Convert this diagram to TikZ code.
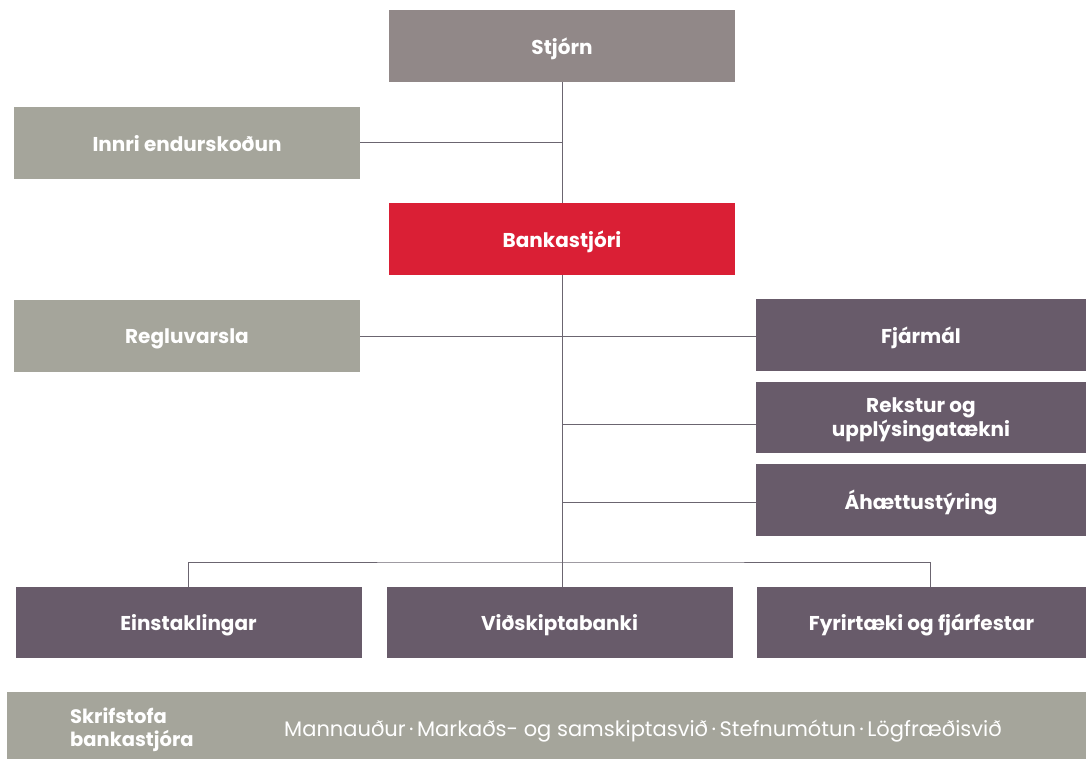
\documentclass[tikz,border=0pt]{standalone}
\usepackage{fontspec}
\setmainfont{Poppins}
\usepackage{tikz}
\usetikzlibrary{positioning}

\definecolor{boardgray}{HTML}{918888}
\definecolor{stonegray}{HTML}{A5A59B}
\definecolor{bankred}{HTML}{DA1F35}
\definecolor{plum}{HTML}{685B6A}
\definecolor{linegray}{HTML}{6B6570}

\tikzset{
  unit/.style={fill=#1, text=white, font=\fontsize{20}{24}\selectfont\bfseries,
    inner sep=0pt, text depth=0pt, align=center, minimum height=72pt},
  wideunit/.style={unit=#1, minimum width=346pt},
  sideunit/.style={unit=#1, minimum width=330pt},
  conn/.style={draw=linegray, line width=1pt}
}

\begin{document}
\begin{tikzpicture}[x=1pt,y=-1pt]
\useasboundingbox (0,0) rectangle (1086,759);

\node[wideunit=boardgray] (stjorn) at (562,46) {Stjórn};
\node[wideunit=stonegray] (innri) at (187,143) {Innri endurskoðun};
\node[wideunit=bankred] (bank) at (562,239) {Bankastjóri};
\node[wideunit=stonegray] (regl) at (187,336) {Regluvarsla};

\node[sideunit=plum] (fjarmal) at (921,335) {Fjármál};
\node[sideunit=plum, minimum height=71pt] (rekstur) at (921,417.5) {Rekstur og\\upplýsingatækni};
\node[sideunit=plum] (haetta) at (921,500) {Áhættustýring};

\node[wideunit=plum, minimum height=71pt] (einst) at (188.5,622.5) {Einstaklingar};
\node[wideunit=plum, minimum height=71pt] (vidsk) at (559.5,622.5) {Viðskiptabanki};
\node[sideunit=plum, minimum height=71pt] (fyrir) at (921.5,622.5) {Fyrirtæki og fjárfestar};

\fill[stonegray] (7,692) rectangle (1086,759);
\node[text=white, font=\fontsize{19.5}{23}\selectfont\bfseries, align=left, anchor=west, inner sep=0pt]
  (skrif) at (70,730) {Skrifstofa\\bankastjóra};
\node[text=white, font=\fontsize{21}{24}\selectfont, inner sep=0pt]
  (svid) at (643,731) {Mannauður\,\textperiodcentered\,Markaðs- og samskiptasvið\,\textperiodcentered\,Stefnumótun\,\textperiodcentered\,Lögfræðisvið};

\coordinate (split) at (562,562);

\draw[conn] (stjorn.south) -- (stjorn.south |- bank.north);
\draw[conn] (innri.east) -- (innri.east -| stjorn.south);
\draw[conn] (regl.east) -- (regl.east -| fjarmal.west);
\draw[conn] (bank.south) -- (split);
\draw[conn] ([yshift=-6.5pt]rekstur.west) -- ([yshift=-6.5pt]rekstur.west -| bank.south);
\draw[conn] ([yshift=-2.5pt]haetta.west) -- ([yshift=-2.5pt]haetta.west -| bank.south);
\draw[conn] (einst.north) |- (split) -| ([xshift=8.5pt]fyrir.north);
\draw[conn] (split) -- (split |- vidsk.north);

\end{tikzpicture}
\end{document}
